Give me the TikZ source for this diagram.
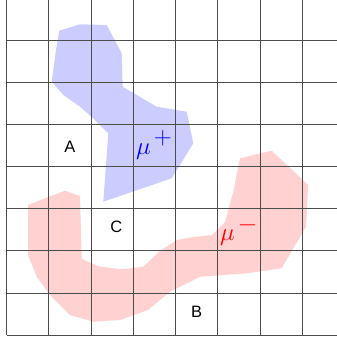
\documentclass[tikz,border=0pt]{standalone}
\usepackage{fontspec}
\newfontfamily\labfont{Liberation Sans}
\newcommand{\supsize}[1]{\mbox{\kern3pt\fontsize{24}{26}\selectfont$#1$}}
\begin{document}
\begin{tikzpicture}[x=1pt,y=-1pt,
  gridline/.style={draw=black!70,line width=0.9pt},
  plusblob/.style={fill=blue!20,draw=none},
  minusblob/.style={fill=red!18,draw=none},
  cell/.style={font=\labfont\fontsize{16.5}{18}\selectfont,inner sep=0pt},
  charge/.style={font=\fontsize{39}{41}\selectfont,inner sep=0pt,anchor=base west}]
\useasboundingbox (0,0) rectangle (337,341);
% blobs
\path[plusblob] (59.3,30.7) -- (80,24.3) -- (106.7,25) -- (121.7,53.3) -- (122.7,86.7)
  -- (156.7,106.7) -- (186.7,111.7) -- (193.3,143.3) -- (171.7,178.3) -- (103.3,201.7)
  -- (108.3,133.3) -- (93.3,118.3) -- (80,106.7) -- (63.3,95) -- (51.7,81.7) -- (56,50) -- cycle;
\path[minusblob] (28,205) -- (65,190.7) -- (80,196) -- (81.7,259) -- (100,266.7)
  -- (122,269.3) -- (143.3,266.7) -- (160,251) -- (176.7,240) -- (191.7,237.3)
  -- (212,235) -- (225,222) -- (233,193) -- (240,158.3) -- (271.7,150.7)
  -- (308.3,185) -- (306,226.7) -- (281.7,268.3) -- (247,273.3) -- (200.3,276.7)
  -- (170,291.7) -- (148,310) -- (120,320) -- (93.3,321.7) -- (70,315)
  -- (50,295) -- (36.7,276.7) -- (28,255) -- cycle;
% grid
\foreach \i in {0,...,7} {
  \draw[gridline] ({6.7+42.23*\i},0) -- ({6.7+42.23*\i},335);
  \draw[gridline] (6.7,{335-42.03*\i}) -- (337,{335-42.03*\i});
}
% labels
\node[cell] (A) at (70,146.7) {A};
\node[cell] (B) at (196.7,311.7) {B};
\node[cell] (C) at (116.3,227) {C};
\node[charge,text=blue] (mup) at (136,154) {$\mu^{\supsize{+}}$};
\node[charge,text=red] (mum) at (220,240.7) {$\mu^{\supsize{-}}$};
\end{tikzpicture}
\end{document}
